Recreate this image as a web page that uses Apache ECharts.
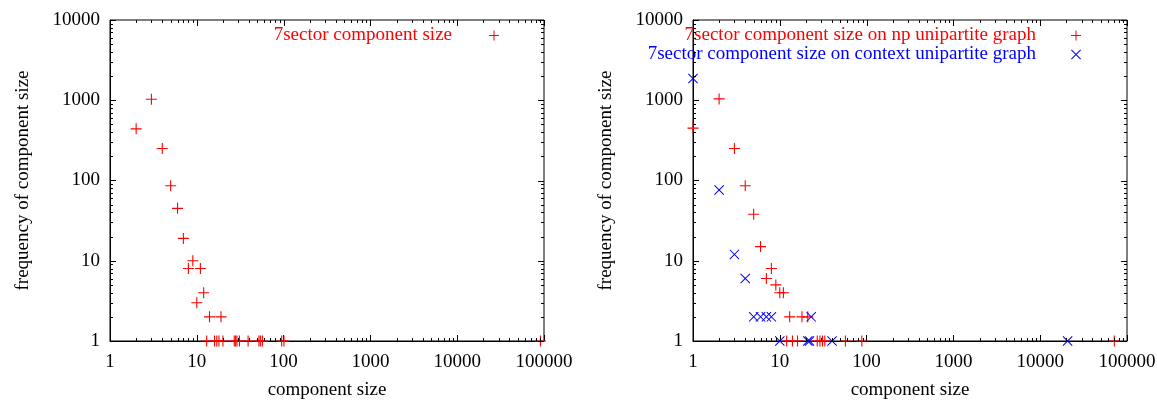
<!DOCTYPE html>
<html>
<head>
<meta charset="utf-8">
<script src="https://cdn.jsdelivr.net/npm/echarts@6/dist/echarts.min.js"></script>
<style>
  html, body { margin: 0; padding: 0; background: #fff; }
  #chart { width: 1157px; height: 400px; }
</style>
</head>
<body>
<div id="chart"></div>
<script>
// Component size distributions (size -> number of components of that size)
const sectorSizes = [2, 3, 4, 5, 6, 7, 8, 9, 10, 11, 12, 13, 14, 16, 17, 18, 19, 20, 27, 28, 29, 31, 39, 52, 54, 57, 95, 101, 91000];
const sectorFreqs = [440, 1030, 250, 86, 45, 19, 8, 10, 3, 8, 4, 1, 2, 1, 1, 1, 2, 1, 1, 1, 1, 1, 1, 1, 1, 1, 1, 1, 1];

const npSizes = [1, 2, 3, 4, 5, 6, 7, 8, 9, 10, 11, 12, 13, 14, 16, 18, 21, 27, 29, 31, 33, 57, 88, 71400];
const npFreqs = [450, 1040, 250, 86, 38, 15, 6, 8, 5, 4, 4, 1, 2, 1, 1, 2, 2, 1, 1, 1, 1, 1, 1, 1];

const contextSizes = [1, 2, 3, 4, 5, 6, 7, 8, 10, 21, 22, 23, 40, 20700];
const contextFreqs = [1870, 76, 12, 6, 2, 2, 2, 2, 1, 1, 1, 2, 1, 1];

// Log axis ranges and tick layout
const xRange = [1, 100000];
const yRange = [1, 10000];
const minorSteps = [2, 3, 4, 5, 6, 7, 8, 9];

const serif = '"Liberation Serif", "DejaVu Serif", serif';
const FONT_SIZE = 19;
const RED = '#ff0000';
const BLUE = '#0000ff';
// thin filled strokes, so fill colour carries to both points and legend icons
const PLUS = 'path://M0,4.5L10,4.5L10,5.5L0,5.5ZM4.5,0L5.5,0L5.5,10L4.5,10Z';
const CROSS = 'path://M0,0.7L0.7,0L10,9.3L9.3,10ZM9.3,0L10,0.7L0.7,10L0,9.3Z';

function zip(xs, ys) { return xs.map((x, i) => [x, ys[i]]); }

// major + minor tick values over a log range: [value, isMajor]
function logTicks(range) {
  const out = [];
  for (let d = range[0]; d <= range[1]; d *= 10) {
    out.push([d, true]);
    if (d * 10 <= range[1]) minorSteps.forEach(m => out.push([d * m, false]));
  }
  return out;
}

const plainLabel = v => String(Math.round(v));

function xAxis(gridIndex) {
  return {
    type: 'log', logBase: 10, gridIndex, min: xRange[0], max: xRange[1],
    name: 'component size', nameLocation: 'middle', nameGap: 40,
    nameTextStyle: { fontFamily: serif, fontSize: FONT_SIZE, color: '#000' },
    axisLine: { show: true, lineStyle: { color: '#000', width: 1 } },
    axisTick: { show: true, inside: true, length: 6, lineStyle: { color: '#000', width: 1 } },
    splitLine: { show: false }, minorTick: { show: false },
    axisLabel: { fontFamily: serif, fontSize: FONT_SIZE, color: '#000', margin: 12, formatter: plainLabel }
  };
}
function yAxis(gridIndex) {
  return {
    type: 'log', logBase: 10, gridIndex, min: yRange[0], max: yRange[1],
    name: 'frequency of component size', nameLocation: 'middle', nameGap: 77,
    nameTextStyle: { fontFamily: serif, fontSize: FONT_SIZE, color: '#000' },
    axisLine: { show: true, lineStyle: { color: '#000', width: 1 } },
    axisTick: { show: true, inside: true, length: 6, lineStyle: { color: '#000', width: 1 } },
    splitLine: { show: false }, minorTick: { show: false },
    axisLabel: { fontFamily: serif, fontSize: FONT_SIZE, color: '#000', margin: 10, formatter: plainLabel }
  };
}

function marks(name, idx, data, symbol, color, size) {
  return {
    name, type: 'scatter', xAxisIndex: idx, yAxisIndex: idx,
    data, symbol, symbolSize: size, z: 3,
    itemStyle: { color: color, borderWidth: 0, opacity: 1 },
    emphasis: { disabled: true }
  };
}

const legendText = { fontFamily: serif, fontSize: FONT_SIZE, lineHeight: 19 };
function legendEntry(name, icon, color) {
  return { name, icon, textStyle: { color } };
}

const gridBase = { top: 20, width: 434, height: 321, show: true, borderColor: '#000', borderWidth: 1,
  containLabel: false, outerBoundsMode: 'none' };

const chart = echarts.init(document.getElementById('chart'), null, { renderer: 'canvas' });
chart.setOption({
  animation: false,
  backgroundColor: '#fff',
  grid: [
    Object.assign({ left: 110 }, gridBase),
    Object.assign({ left: 693 }, gridBase)
  ],
  xAxis: [xAxis(0), xAxis(1)],
  yAxis: [yAxis(0), yAxis(1)],
  legend: [
    {
      right: 658, top: 26, padding: 0, orient: 'vertical', align: 'right',
      itemWidth: 10, itemHeight: 10, selectedMode: false,
      textStyle: Object.assign({ padding: [0, 32, 0, 0] }, legendText),
      data: [legendEntry('7sector component size', PLUS, RED)]
    },
    {
      right: 76, top: 26, padding: 0, orient: 'vertical', align: 'right', itemGap: 0,
      itemWidth: 10, itemHeight: 10, selectedMode: false,
      textStyle: Object.assign({ padding: [0, 30, 0, 0] }, legendText),
      data: [
        legendEntry('7sector component size on np unipartite graph', PLUS, RED),
        legendEntry('7sector component size on context unipartite graph', CROSS, BLUE)
      ]
    }
  ],
  series: [
    marks('7sector component size', 0, zip(sectorSizes, sectorFreqs), PLUS, RED, 11),
    marks('7sector component size on np unipartite graph', 1, zip(npSizes, npFreqs), PLUS, RED, 11),
    marks('7sector component size on context unipartite graph', 1, zip(contextSizes, contextFreqs), CROSS, BLUE, 10)
  ]
});

// Inward minor ticks on all borders and mirrored major ticks on top/right,
// placed through each grid's log scales
function borderTicks(gridIndex) {
  const els = [];
  const toPx = v => chart.convertToPixel({ gridIndex: gridIndex }, v);
  const line = (x1, y1, x2, y2) => ({
    type: 'line', silent: true, z: 100,
    shape: { x1: x1, y1: y1, x2: x2, y2: y2 }, style: { stroke: '#000', lineWidth: 1, fill: null }
  });
  logTicks(xRange).forEach(([v, major]) => {
    const len = major ? 6 : 3;
    const lo = toPx([v, yRange[0]]), hi = toPx([v, yRange[1]]);
    const px = Math.round(lo[0]) + 0.5;
    if (!major) els.push(line(px, lo[1], px, lo[1] - len));
    els.push(line(px, hi[1], px, hi[1] + len));
  });
  logTicks(yRange).forEach(([v, major]) => {
    const len = major ? 6 : 3;
    const l = toPx([xRange[0], v]), r = toPx([xRange[1], v]);
    const py = Math.round(l[1]) + 0.5;
    if (!major) els.push(line(l[0], py, l[0] + len, py));
    els.push(line(r[0], py, r[0] - len, py));
  });
  return els;
}
chart.setOption({ graphic: { elements: [...borderTicks(0), ...borderTicks(1)] } });
</script>
</body>
</html>
